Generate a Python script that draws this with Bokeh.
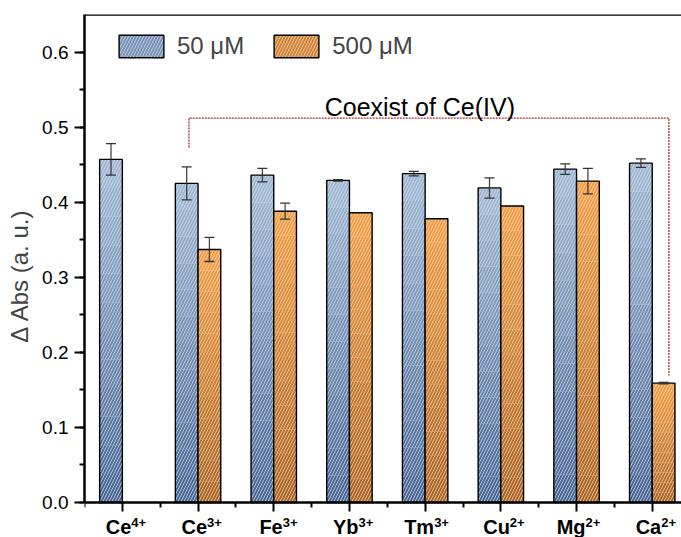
import numpy as np
from bokeh.plotting import figure
from bokeh.models import (ColumnDataSource, Whisker, TeeHead, Label, LabelSet, Legend,
                          LegendItem, FixedTicker, SingleIntervalTicker, PrintfTickFormatter,
                          CustomJSTickFormatter, LinearAxis, Span, Range1d)
from bokeh.embed import file_html
from bokeh.resources import INLINE
from bokeh.core.properties import value

# ---------------- data ----------------
ions = ["Ce", "Ce", "Fe", "Yb", "Tm", "Cu", "Mg", "Ca"]
charges = ["4+", "3+", "3+", "3+", "3+", "2+", "2+", "2+"]
abs_50 = [0.457, 0.425, 0.436, 0.429, 0.438, 0.419, 0.444, 0.452]
err_50 = [0.021, 0.022, 0.009, 0.001, 0.003, 0.0135, 0.007, 0.0056]
abs_500 = [np.nan, 0.337, 0.388, 0.386, 0.378, 0.395, 0.428, 0.159]
err_500 = [np.nan, 0.016, 0.0107, 0.0, 0.0, 0.0, 0.017, 0.001]
series_labels = ["50 μM", "500 μM"]
bracket_x = [0.88, 0.88, 7.22, 7.22]
bracket_y = [0.473, 0.512, 0.512, 0.169]
bracket_text = "Coexist of Ce(IV)"
bracket_text_pos = (3.93, 0.527)
y_max = 0.65
label_y_base = -0.0425
label_y_sup = -0.033

FONT = "Liberation Sans"
BAR_W = 0.3
OFF = 0.15
N_SEG = 12
FIRST_SEG = 6
PX_PER_Y = 750.0
FRAME_TOP, FRAME_LEFT = 14, 84
W, H = 681, 537
Y0_PX = 502
LEGEND_BOTTOM_PX = 60

x_idx = np.arange(len(ions), dtype=float)


def hexcol(c):
    return "#%02x%02x%02x" % tuple(int(round(v)) for v in c)


def gradient_source(xs, vals, dark, light):
    order = [FIRST_SEG] + [k for k in range(N_SEG) if k != FIRST_SEG]
    cx, bot, top, col = [], [], [], []
    for k in order:
        t = (k + 0.5) / N_SEG
        c = hexcol([d + (l - d) * t for d, l in zip(dark, light)])
        for xv, v in zip(xs, vals):
            cx.append(xv)
            if np.isnan(v):
                bot.append(np.nan)
                top.append(np.nan)
            else:
                bot.append(v * k / N_SEG)
                top.append(v * (k + 1) / N_SEG)
            col.append(c)
    return ColumnDataSource(dict(x=cx, bottom=bot, top=top, color=col))


y_start = -(H - Y0_PX) / PX_PER_Y
x_end = -0.5 + (W - FRAME_LEFT) / 75.7

p = figure(width=W, height=H,
           x_range=Range1d(-0.5, x_end), y_range=Range1d(y_start, y_max),
           output_backend="svg", toolbar_location=None,
           x_axis_location=None,
           min_border_left=FRAME_LEFT, min_border_right=0,
           min_border_top=FRAME_TOP, min_border_bottom=0)
p.outline_line_color = None
p.grid.visible = False
p.background_fill_color = "white"

series = [
    (x_idx - OFF, abs_50, err_50, (52, 98, 162), (150, 188, 232)),
    (x_idx + OFF, abs_500, err_500, (165, 95, 32), (245, 160, 70)),
]

legend_items = []
for (xs, vals, errs, dark, light), lab in zip(series, series_labels):
    src = gradient_source(list(xs), vals, dark, light)
    seg = p.vbar(x="x", bottom="bottom", top="top", width=BAR_W, source=src,
                 fill_color="color", line_color=None,
                 hatch_pattern="/", hatch_color="#f6d6b4", hatch_alpha=0.8,
                 hatch_scale=6, hatch_weight=1.0)
    osrc = ColumnDataSource(dict(x=list(xs), top=vals))
    outl = p.vbar(x="x", top="top", bottom=0, width=BAR_W, source=osrc,
                  fill_color=None, line_color="black", line_width=1.4)
    legend_items.append(LegendItem(label=lab, renderers=[seg, outl], index=1))

    ex, up, lo = [], [], []
    for xv, v, e in zip(xs, vals, errs):
        if np.isnan(v) or e <= 0:
            continue
        ex.append(xv)
        up.append(v + e)
        lo.append(v - e)
    esrc = ColumnDataSource(dict(x=ex, upper=up, lower=lo))
    w = Whisker(base="x", upper="upper", lower="lower", source=esrc,
                line_color="#333333", line_width=1.3, line_alpha=0.9,
                upper_head=TeeHead(size=10, line_color="#333333", line_width=1.3),
                lower_head=TeeHead(size=10, line_color="#333333", line_width=1.3))
    w.level = "overlay"
    p.add_layout(w)

# bracket
p.line(bracket_x, bracket_y, line_color="#b22a2a", line_width=1.3, line_dash="2 1")
p.add_layout(Label(x=bracket_text_pos[0], y=bracket_text_pos[1], text=bracket_text,
                   text_align="center", text_baseline="alphabetic",
                   text_font=FONT, text_font_size="25px", text_color="black"))

# top frame line
p.add_layout(Span(location=y_max, dimension="width", line_color="black", line_width=2.5))

# y axis
ya = p.yaxis[0]
ya.bounds = (0, y_max)
ya.ticker = SingleIntervalTicker(interval=0.1, num_minor_ticks=2)
ya.formatter = PrintfTickFormatter(format="%.1f")
ya.axis_line_width = 2.5
ya.major_tick_line_width = 2
ya.minor_tick_line_width = 2
ya.major_tick_in = 0
ya.major_tick_out = 10
ya.minor_tick_in = 0
ya.minor_tick_out = 5
ya.major_label_standoff = 6
ya.major_label_text_font = FONT
ya.major_label_text_font_size = "19px"
ya.major_label_text_color = "black"
ya.axis_label = "Δ Abs (a. u.)"
ya.axis_label_text_font = FONT
ya.axis_label_text_font_size = "24px"
ya.axis_label_text_font_style = "normal"
ya.axis_label_standoff = 6

# x axis drawn at y = 0 inside the frame, ticks pointing down
xa = LinearAxis(fixed_location=0,
                ticker=FixedTicker(ticks=list(x_idx),
                                   minor_ticks=[i - 0.5 for i in range(len(ions) + 1)]),
                formatter=CustomJSTickFormatter(code="return ''"),
                axis_line_width=2.5, major_tick_line_width=2, minor_tick_line_width=2,
                major_tick_in=9, major_tick_out=0, minor_tick_in=5, minor_tick_out=0,
                major_label_standoff=0, major_label_text_font_size="1px")
p.add_layout(xa, "above")

# category labels with superscript charges
lsrc = ColumnDataSource(dict(x=list(x_idx), ion=ions, chg=charges,
                             yb=[label_y_base] * len(ions), ys=[label_y_sup] * len(ions)))
p.add_layout(LabelSet(x="x", y="yb", text="ion", source=lsrc, x_offset=9,
                      text_align="right", text_baseline="alphabetic",
                      text_font=value(FONT), text_font_style="bold",
                      text_font_size="20px", text_color="black"))
p.add_layout(LabelSet(x="x", y="ys", text="chg", source=lsrc, x_offset=9,
                      text_align="left", text_baseline="alphabetic",
                      text_font=value(FONT), text_font_style="bold",
                      text_font_size="13px", text_color="black"))

legend = Legend(items=legend_items, orientation="horizontal",
                location=(29, H - LEGEND_BOTTOM_PX),
                border_line_color=None, background_fill_alpha=0, padding=0, margin=0,
                spacing=24, label_standoff=8, glyph_width=56, glyph_height=28,
                label_height=28, label_text_font=FONT, label_text_font_size="24px",
                label_text_baseline="middle")
p.add_layout(legend)

open("out.html", "w").write(file_html(p, INLINE))
